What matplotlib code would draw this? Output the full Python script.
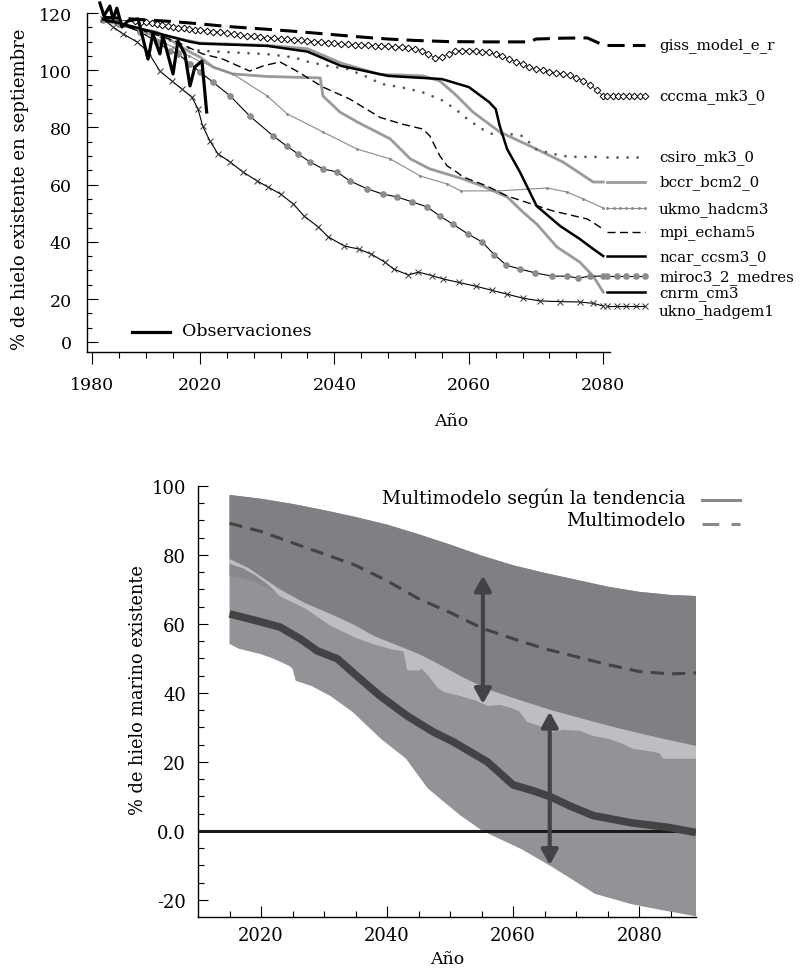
import numpy as np
import matplotlib
matplotlib.use("Agg")
import matplotlib.pyplot as plt
from matplotlib.lines import Line2D
from matplotlib.ticker import FixedLocator, FixedFormatter, NullFormatter

plt.rcParams['font.family'] = ['DejaVu Serif']

# ======================= DATA: top panel =======================
obs_years = [1982.8, 1984.3, 1986.5, 1987.7, 1989.1, 1991.0, 1993.2, 1997.0, 2000.7, 2002.5,
             2005.1, 2006.2, 2010.0, 2011.8, 2014.4, 2016.3, 2018.1, 2020.3, 2021.0]
obs_vals = [123.5, 119.0, 122.4, 117.9, 121.7, 115.1, 117.2, 117.9, 103.9, 112.7,
            105.7, 112.0, 98.7, 110.2, 105.7, 94.5, 101.1, 103.2, 85.4]

giss_years = [1984, 1990, 1995, 2000, 2010, 2020, 2024, 2030, 2034, 2040, 2044, 2048, 2052,
              2057, 2063, 2069, 2070, 2074, 2077.6, 2080]
giss_vals = [118.5, 118.2, 117.9, 117.6, 117.0, 116.2, 115.3, 114.3, 113.6, 112.4, 111.6, 110.9,
             110.4, 110.0, 109.9, 109.9, 110.9, 111.2, 111.3, 108.8]

cccma_years = [1984, 1990] + list(range(1996, 2020, 2)) + list(range(2020, 2081))
cccma_vals = [117.6, 117.4,
              117.2, 117.0, 116.8, 116.5, 116.2, 115.8, 115.5, 115.2, 114.9, 114.6, 114.4, 114.2,
              114.0, 113.8, 113.5, 113.2, 112.9, 112.6, 112.3, 112.0, 111.8, 111.6,
              111.4, 111.2, 111.0, 110.8, 110.6, 110.4, 110.2, 110.0, 109.8, 109.6,
              109.4, 109.2, 109.0, 108.9, 108.8, 108.7, 108.6, 108.5, 108.4, 108.2,
              108.0, 107.8, 107.5, 106.8, 105.5, 104.4, 104.6, 105.8, 106.6, 106.8,
              106.8, 106.7, 106.5, 106.2, 105.5, 104.8, 104.0, 103.0, 102.0, 101.2,
              100.4, 99.9, 99.5, 99.1, 98.8, 98.2, 97.3, 96.3, 94.9, 93.0,
              91.0]

csiro_years = [1984, 1990, 2000, 2010, 2015, 2020, 2025, 2030, 2034, 2036, 2039, 2042, 2045, 2047,
               2050, 2053, 2056, 2058, 2060, 2062, 2063.5, 2066, 2068, 2070, 2072, 2074, 2076, 2080]
csiro_vals = [117.5, 116.5, 113.5, 110.0, 108.0, 106.8, 106.2, 105.6, 104.5, 103.0, 101.5, 100.4,
              97.5, 95.2, 94.0, 92.4, 89.5, 86.4, 82.5, 79.4, 77.7, 77.7, 77.0, 72.4, 71.0, 70.0,
              69.7, 69.7]

bccr_years = [1984, 1990, 2000, 2010, 2016, 2020, 2030, 2036, 2041, 2046.8, 2050, 2053.2, 2055.7,
              2058, 2060.6, 2064.6, 2069.1, 2074, 2078.5, 2080]
bccr_vals = [117.5, 116.0, 113.5, 111.5, 110.3, 109.5, 108.7, 107.5, 102.5, 98.5, 98.3, 98.0, 96.2,
             91.5, 85.4, 78.4, 73.5, 67.9, 60.9, 60.9]

ukmo_years = [1984, 1990, 2000, 2010, 2016, 2020, 2024.9, 2030, 2033, 2038.3, 2043.4, 2048.3,
              2052.8, 2056.8, 2058.8, 2064.3, 2071.7, 2074.6, 2077, 2080]
ukmo_vals = [117.5, 116.0, 113.0, 108.0, 105.0, 103.0, 98.7, 91.0, 84.7, 78.4, 72.4, 69.0,
             63.0, 60.2, 57.8, 57.8, 58.8, 57.4, 55.0, 51.8]

mpi_years = [1984, 1990, 2000, 2010, 2018, 2020.4, 2023.4, 2027.4, 2029.4, 2031.9, 2034.4, 2038.3,
             2042.3, 2046.8, 2050, 2053.2, 2054.2, 2055.7, 2056.8, 2058.2, 2059.1, 2062.7, 2065.7,
             2072.5, 2077.6, 2079.5, 2080]
mpi_vals = [117.5, 116.0, 113.5, 110.5, 107.0, 105.7, 103.9, 99.7, 101.5, 102.9, 99.7, 94.1,
            89.9, 83.5, 81.2, 79.4, 77.0, 70.0, 66.5, 64.4, 62.7, 59.5, 56.0,
            50.8, 48.0, 45.2, 43.5]

ncar_years = [1984, 1990, 2000, 2010, 2016, 2020, 2030, 2036, 2041, 2048, 2056, 2060, 2063, 2064,
              2064.6, 2065.7, 2067.6, 2070.1, 2073.6, 2076.5, 2078.5, 2080]
ncar_vals = [117.8, 116.5, 114.0, 111.5, 110.0, 109.3, 108.5, 106.5, 101.5, 98.0, 96.9, 94.1, 88.9,
             86.4, 80.5, 72.4, 64.4, 52.5, 45.5, 41.0, 37.5, 35.0]

miroc_years = [1984, 1990, 1997.7, 2004, 2008.8, 2011.8, 2016.3, 2020, 2021.9, 2024.5, 2027.4,
               2030.9, 2032.9, 2034.6, 2036.4, 2038.3, 2040.4, 2042.3, 2044.9, 2047.2, 2049.3,
               2051.5, 2053.8, 2055.7, 2057.6, 2059.9, 2062, 2063.8, 2065.6, 2067.6, 2069.9,
               2072.4, 2074.6, 2076.3, 2078, 2080]
miroc_vals = [117.5, 116.3, 113.4, 110.0, 106.7, 105.7, 102.2, 99.4, 95.9, 91.0, 84.0,
              77.0, 73.5, 70.7, 67.9, 65.5, 64.4, 61.3, 58.5, 56.7, 55.7,
              54.0, 52.2, 49.0, 46.2, 42.7, 39.9, 35.5, 31.8, 30.5, 29.1,
              28.0, 28.0, 27.3, 28.0, 28.0]

cnrm_years = [1984, 1991.4, 2000, 2004, 2010, 2016, 2020, 2022, 2024.9, 2030, 2037.9, 2038.3,
              2040.8, 2043.4, 2048.3, 2051.3, 2054.2, 2059.1, 2062, 2065.7, 2068, 2070.1, 2073.1,
              2076.5, 2078.5, 2080]
cnrm_vals = [117.8, 115.5, 114.0, 113.4, 110.0, 106.5, 104.6, 101.0, 98.7, 97.8, 97.3, 91.0,
             85.4, 81.9, 76.0, 69.0, 65.5, 62.0, 59.5, 55.7, 50.5, 46.2, 38.2,
             32.9, 28.0, 22.4]

ukno_years = [1984, 1987.7, 1991.4, 1996.6, 2000.7, 2005.1, 2009.6, 2013.3, 2017, 2019.3, 2020.4,
              2021.5, 2022.7, 2024.5, 2026.4, 2028.5, 2030.1, 2032, 2033.9, 2035.5, 2037.6,
              2039.1, 2041.5, 2043.6, 2045.5, 2047.5, 2048.8, 2051, 2052.5, 2054.5, 2056.2,
              2058.5, 2061, 2063.5, 2065.7, 2068, 2070.6, 2073.5, 2076.5, 2078.5, 2080]
ukno_vals = [117.9, 115.1, 112.7, 109.9, 106.4, 99.7, 96.2, 93.4, 90.6, 86.4, 80.5,
             75.2, 70.7, 67.9, 64.4, 61.3, 59.2, 56.7, 53.2, 49.0, 45.2,
             41.7, 38.5, 37.5, 35.7, 32.9, 30.5, 28.4, 29.4, 28.2, 27.0,
             25.8, 24.5, 23.0, 21.7, 20.3, 19.1, 18.8, 18.6, 18.0, 16.7]

top_xticks = [1980, 2020, 2040, 2060, 2080]
top_xticklabels = ['1980', '2020', '2040', '2060', '2080']
top_yticks = [0, 20, 40, 60, 80, 100, 120]
top_yticklabels = ['0', '20', '40', '60', '80', '100', '120']

# ======================= DATA: bottom panel =======================
upper_years = [2015, 2020, 2025, 2030, 2035, 2040, 2045, 2050, 2055, 2060, 2065, 2070, 2075, 2080, 2085, 2089]
upper_vals = [97.4, 96.3, 94.8, 93.0, 91.0, 88.8, 86.0, 83.0, 79.8, 77.0, 74.8, 72.8, 70.8, 69.3, 68.4, 68.1]

multi_years = [2015, 2020, 2025, 2030, 2035, 2040, 2045, 2050, 2055, 2060, 2065, 2070, 2075, 2080, 2085, 2089]
multi_vals = [89.2, 86.8, 83.5, 80.3, 77.0, 72.5, 67.3, 63.3, 58.8, 55.7, 52.8, 50.5, 48.2, 46.2, 45.5, 45.8]

light_top_years = [2015, 2018, 2023, 2027, 2031, 2035, 2038, 2042, 2045, 2048, 2052, 2056, 2060,
                   2066, 2072, 2077, 2083, 2089]
light_top_vals = [78.8, 76.2, 70.0, 66.0, 62.9, 59.5, 56.4, 53.5, 51.3, 48.5, 44.5, 41.0, 38.5,
                  35.0, 32.0, 29.6, 27.0, 24.6]

light_bot_years = [2015, 2017, 2019, 2021, 2023, 2027, 2031, 2035, 2038, 2041, 2042.6, 2043.2, 2045,
                   2045.5, 2046.5, 2048, 2049, 2051.6, 2054, 2056, 2058, 2060, 2061, 2062.2, 2064,
                   2066.3, 2068, 2070.6, 2072.5, 2075, 2077, 2079, 2082.2, 2083.2, 2083.8, 2089]
light_bot_vals = [77.4, 76.2, 74.2, 71.5, 68.0, 64.5, 59.5, 56.0, 54.0, 52.5, 52.0, 46.5, 46.5,
                  47.0, 45.0, 41.5, 40.3, 39.1, 37.8, 36.2, 36.5, 35.4, 34.6, 31.6, 30.5,
                  28.7, 29.3, 29.0, 27.6, 26.7, 25.5, 23.8, 22.9, 22.5, 20.9, 20.9]

wedge_years = [2015, 2017, 2019, 2021, 2022.5]
wedge_top = [77.4, 76.2, 74.2, 71.5, 69.0]
wedge_bot = [73.9, 73.2, 72.2, 70.5, 69.0]

lower_years = [2015, 2016.5, 2020, 2022, 2024.5, 2025, 2025.5, 2028, 2031, 2034.5, 2039, 2043,
               2046.4, 2048.4, 2051.6, 2055.1, 2061.4, 2066.1, 2073, 2078.8, 2083, 2089]
lower_vals = [54.2, 52.8, 51.2, 49.9, 47.8, 47.0, 43.5, 42.0, 39.1, 34.5, 26.7, 20.9,
              12.4, 9.3, 4.5, 0.0, -5.4, -10.4, -18.3, -21.3, -22.8, -24.8]

trend_years = [2015, 2018.3, 2023, 2026.2, 2028.9, 2032.1, 2035.2, 2038.9, 2043.2, 2047.3, 2050.5,
               2055.9, 2060, 2063.2, 2066, 2069, 2072.7, 2078.8, 2084.6, 2089]
trend_vals = [62.9, 61.4, 59.1, 55.7, 52.2, 49.9, 44.9, 39.1, 33.3, 28.7, 25.8,
              20.0, 13.3, 11.6, 9.8, 7.2, 4.4, 2.3, 1.0, -0.5]

arrow_years = [2055.2, 2065.8]
arrow_tops = [74.0, 34.5]
arrow_mids = [58.0, 10.0]
arrow_bottoms = [36.8, -9.9]

bot_xticks = [2020, 2040, 2060, 2080]
bot_xticklabels = ['2020', '2040', '2060', '2080']
bot_yticks = [-20, 0, 20, 40, 60, 80, 100]
bot_yticklabels = ['-20', '0.0', '20', '40', '60', '80', '100']

# ======================= FIGURE =======================
W, H = 810, 970
fig = plt.figure(figsize=(W / 100, H / 100), dpi=100)
fig.patch.set_facecolor('white')


def px_axes(left, top, right, bottom):
    return fig.add_axes([left / W, 1 - bottom / H, (right - left) / W, (bottom - top) / H])


def fpt(x, y):
    return (x / W, 1 - y / H)


# broken (compressed) axes of the original
BX, FXC = 2020.0, 0.4
BY, FYC = 20.0, 0.75


def fx(x):
    x = np.asarray(x, float)
    return np.where(x < BX, BX + (x - BX) * FXC, x)


def ifx(x):
    x = np.asarray(x, float)
    return np.where(x < BX, BX + (x - BX) / FXC, x)


def fy(y):
    y = np.asarray(y, float)
    return np.where(y < BY, BY + (y - BY) * FYC, y)


def ify(y):
    y = np.asarray(y, float)
    return np.where(y < BY, BY + (y - BY) / FYC, y)


# ---------------- top panel ----------------
ax1 = px_axes(87, 14, 610, 353)
ax1.set_xscale('function', functions=(fx, ifx))
ax1.set_yscale('function', functions=(fy, ify))
ax1.set_xlim(1978, 2081)
ax1.set_ylim(-4.7, 120)

GRAY = '#9a9a9a'
styles = {
    'bccr': dict(color=GRAY, lw=2.0),
    'cnrm': dict(color=GRAY, lw=2.0),
    'ukmo': dict(color='#8a8a8a', lw=0.8, marker='.', ms=2.2),
    'csiro': dict(color='#555555', lw=2.0, ls=(0, (0.01, 3.6)), dash_capstyle='round'),
    'mpi': dict(color='black', lw=1.0, ls=(0, (5.8, 3.2))),
    'miroc': dict(color='black', lw=0.8, marker='o', ms=3.8, mfc='#8c8c8c', mec='#8c8c8c'),
    'ukno': dict(color='black', lw=0.8, marker='x', ms=4.5, mec='#333333', mew=0.7),
    'ncar': dict(color='black', lw=1.8),
    'cccma': dict(color='black', lw=0.5, marker='D', ms=3.4, mfc='white', mec='black', mew=0.7),
    'giss': dict(color='black', lw=2.2, ls=(0, (5.6, 2.7))),
}

ax1.plot(bccr_years, bccr_vals, **styles['bccr'])
ax1.plot(cnrm_years, cnrm_vals, **styles['cnrm'])
ax1.plot(ukmo_years, ukmo_vals, **styles['ukmo'])
ax1.plot(csiro_years, csiro_vals, **styles['csiro'])
ax1.plot(mpi_years, mpi_vals, **styles['mpi'])
ax1.plot(miroc_years, miroc_vals, **styles['miroc'])
ax1.plot(ukno_years, ukno_vals, **styles['ukno'])
ax1.plot(ncar_years, ncar_vals, **styles['ncar'])
ax1.plot(cccma_years, cccma_vals, markevery=slice(2, None), **styles['cccma'])
ax1.plot(giss_years, giss_vals, **styles['giss'])
ax1.plot(obs_years, obs_vals, color='black', lw=2.3, clip_on=False, zorder=5)

# right-hand labels with line samples
SEG0, SEG1, TXT = 2080.6, 2086.2, 2088.3
label_rows = [
    ('giss_model_e_r', giss_vals[-1], styles['giss'], 2, 0),
    ('cccma_mk3_0', cccma_vals[-1], dict(styles['cccma'], lw=0), 8, 0),
    ('csiro_mk3_0', csiro_vals[-1], styles['csiro'], 2, 0),
    ('bccr_bcm2_0', bccr_vals[-1], styles['bccr'], 2, 0),
    ('ukmo_hadcm3', ukmo_vals[-1], styles['ukmo'], 7, 0),
    ('mpi_echam5', mpi_vals[-1], styles['mpi'], 2, 0),
    ('ncar_ccsm3_0', ncar_vals[-1], styles['ncar'], 2, 0),
    ('miroc3_2_medres', miroc_vals[-1], styles['miroc'], 5, 0),
    ('cnrm_cm3', cnrm_vals[-1], dict(color='black', lw=1.8), 2, 0),
    ('ukno_hadgem1', ukno_vals[-1], styles['ukno'], 5, -3.5),
]
for name, yv, st, n, dy in label_rows:
    xs = np.linspace(SEG0, SEG1, n)
    ax1.plot(xs, [yv] * n, clip_on=False, **st)
    ax1.annotate(name, (TXT, yv), xytext=(0, dy), textcoords='offset points',
                 ha='left', va='center', fontsize=10.8, annotation_clip=False)

ax1.xaxis.set_major_locator(FixedLocator(top_xticks))
ax1.xaxis.set_major_formatter(FixedFormatter(top_xticklabels))
ax1.xaxis.set_minor_locator(FixedLocator([1990, 2000, 2010] + [y for y in range(2024, 2080, 4) if y % 20]))
ax1.xaxis.set_minor_formatter(NullFormatter())
ax1.yaxis.set_major_locator(FixedLocator(top_yticks))
ax1.yaxis.set_major_formatter(FixedFormatter(top_yticklabels))
ax1.yaxis.set_minor_locator(FixedLocator([20 / 3, 40 / 3] + [v for v in range(25, 120, 5) if v % 20]))
ax1.yaxis.set_minor_formatter(NullFormatter())

ax1.tick_params(axis='x', which='major', direction='out', length=8.6, width=0.8, pad=9, labelsize=12.5)
ax1.tick_params(axis='x', which='minor', direction='out', length=4.3, width=0.8)
ax1.tick_params(axis='y', which='major', direction='in', length=8, width=0.8, pad=11, labelsize=12.5)
ax1.tick_params(axis='y', which='minor', direction='in', length=3.6, width=0.8)
for s in ('top', 'right'):
    ax1.spines[s].set_visible(False)
for s in ('left', 'bottom'):
    ax1.spines[s].set_linewidth(1.0)

fig.add_artist(Line2D([132 / W, 170 / W], [1 - 333 / H, 1 - 333 / H], transform=fig.transFigure,
                      color='black', lw=2.3))
fig.text(*fpt(182, 331), 'Observaciones', ha='left', va='center', fontsize=12.5)
fig.text(*fpt(20, 189), '% de hielo existente en septiembre', rotation=90,
         ha='center', va='center', fontsize=13)
fig.text(*fpt(451, 421), 'Año', ha='center', va='center', fontsize=12.5)

# ---------------- bottom panel ----------------
ax2 = px_axes(198, 487, 696, 918)
ax2.set_xlim(2010, 2089)
ax2.set_ylim(-25, 100)

C_DARK, C_LIGHT, C_MID, C_WEDGE = '#808084', '#bdbec2', '#939397', '#88888c'
C_LINE = '#434346'

# full envelope in mid gray, then upper dark band, then light band
ax2.fill(np.concatenate([upper_years, lower_years[::-1]]),
         np.concatenate([upper_vals, lower_vals[::-1]]), color=C_MID, lw=0, zorder=1)
ax2.fill(np.concatenate([upper_years, light_top_years[::-1]]),
         np.concatenate([upper_vals, light_top_vals[::-1]]), color=C_DARK, lw=0, zorder=2)
ax2.fill(np.concatenate([light_top_years, light_bot_years[::-1]]),
         np.concatenate([light_top_vals, light_bot_vals[::-1]]), color=C_LIGHT, lw=0, zorder=3)
ax2.fill(np.concatenate([wedge_years, wedge_years[::-1]]),
         np.concatenate([wedge_top, wedge_bot[::-1]]), color=C_WEDGE, lw=0, zorder=3)

ax2.axhline(0, color='#1a1a1a', lw=2.2, zorder=4)
ax2.plot(multi_years, multi_vals, color=C_LINE, lw=2.2, ls=(0, (4.3, 2.7)), zorder=5)
ax2.plot(trend_years, trend_vals, color=C_LINE, lw=5.5, solid_capstyle='butt', zorder=6)

for xa, yt, ym, yb in zip(arrow_years, arrow_tops, arrow_mids, arrow_bottoms):
    for tip in (yt, yb):
        ax2.annotate('', xy=(xa, tip), xytext=(xa, ym), zorder=7,
                     arrowprops=dict(arrowstyle='-|>,head_length=0.9,head_width=0.5',
                                     lw=3.0, color=C_LINE, shrinkA=0, shrinkB=0))

ax2.xaxis.set_major_locator(FixedLocator(bot_xticks))
ax2.xaxis.set_major_formatter(FixedFormatter(bot_xticklabels))
ax2.xaxis.set_minor_locator(FixedLocator([y for y in range(2015, 2089, 5) if y % 20]))
ax2.xaxis.set_minor_formatter(NullFormatter())
ax2.yaxis.set_major_locator(FixedLocator(bot_yticks))
ax2.yaxis.set_major_formatter(FixedFormatter(bot_yticklabels))
ax2.yaxis.set_minor_locator(FixedLocator([v for v in range(-15, 100, 5) if v % 20]))
ax2.yaxis.set_minor_formatter(NullFormatter())

ax2.tick_params(axis='x', which='major', direction='in', length=8, width=0.8, pad=6.5, labelsize=13)
ax2.tick_params(axis='x', which='minor', direction='in', length=4.3, width=0.8)
ax2.tick_params(axis='y', which='major', direction='in', length=7.5, width=0.8, pad=8.6, labelsize=13)
ax2.tick_params(axis='y', which='minor', direction='in', length=4.3, width=0.8)
for s in ('top', 'right'):
    ax2.spines[s].set_visible(False)
for s in ('left', 'bottom'):
    ax2.spines[s].set_linewidth(1.0)

fig.text(*fpt(685, 498), 'Multimodelo según la tendencia', ha='right', va='center', fontsize=13.5)
fig.text(*fpt(685, 521), 'Multimodelo', ha='right', va='center', fontsize=13.5)
fig.add_artist(Line2D([702 / W, 740 / W], [1 - 501 / H, 1 - 501 / H], transform=fig.transFigure,
                      color='#8a8a8a', lw=2.2))
fig.add_artist(Line2D([702 / W, 740 / W], [1 - 525 / H, 1 - 525 / H], transform=fig.transFigure,
                      color='#8a8a8a', lw=2.2, ls=(0, (5.5, 4))))
fig.text(*fpt(138, 690), '% de hielo marino existente', rotation=90,
         ha='center', va='center', fontsize=12.8)
fig.text(*fpt(447, 960), 'Año', ha='center', va='center', fontsize=12.5)

fig.savefig('out.png', dpi=100)
